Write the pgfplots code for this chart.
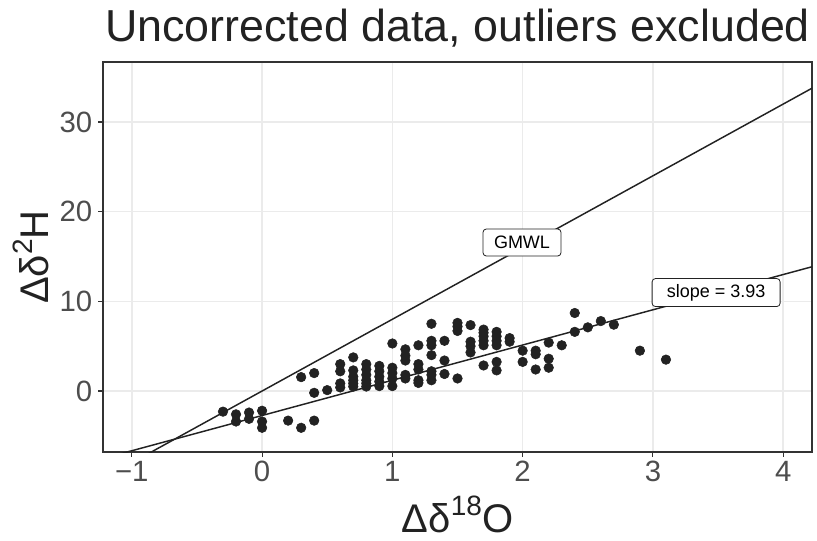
\documentclass[border=0pt]{standalone}
\usepackage{fontspec}
\setmainfont{Liberation Sans}
\usepackage{pgfplots}
\pgfplotsset{compat=1.18}
\definecolor{ptc}{HTML}{222222}
\definecolor{gridc}{HTML}{EBEBEB}
\definecolor{tickc}{HTML}{4D4D4D}
\definecolor{framec}{HTML}{333333}
\newcommand{\sups}[1]{\raisebox{0.42em}{\fontsize{21}{21}\selectfont #1}}
\begin{document}
\begin{tikzpicture}
\useasboundingbox (-77.25pt,-66pt) rectangle (535.5pt,339pt);
\begin{axis}[at={(0pt,0pt)}, anchor=south west, scale only axis,
  width=531.75pt, height=292.5pt,
  xmin=-1.221, xmax=4.221, ymin=-6.8, ymax=36.69,
  xtick={-1,0,1,2,3,4}, xticklabels={−1,0,1,2,3,4},
  ytick={0,10,20,30}, yticklabels={0,10,20,30},
  xtick pos=bottom, ytick pos=left,
  grid=major, grid style={color=gridc, line width=1.1pt},
  axis line style={color=framec, line width=1.1pt},
  tick style={color=framec, line width=0.8pt},
  tick align=outside, major tick length=3.5pt,
  ticklabel style={font=\fontsize{22}{22}\selectfont, color=tickc},
  yticklabel style={xshift=-1pt},
  clip=true]
\addplot[color=ptc, line width=1.1pt] coordinates {(-1.3,-10.4) (4.3,34.4)};
\addplot[color=ptc, line width=1.1pt] coordinates {(-1.3,-7.839) (4.3,14.169)};
\addplot[only marks, mark=*, mark size=3.6pt, color=ptc, mark options={draw=ptc, fill=ptc}] coordinates {
(-0.3,-2.3)
(-0.2,-2.6) (-0.2,-3.4)
(-0.1,-2.4) (-0.1,-3.1)
(0,-2.2) (0,-3.4) (0,-4.1)
(0.2,-3.3)
(0.3,-4.1) (0.3,1.55)
(0.4,2.0) (0.4,-0.2) (0.4,-3.3)
(0.5,0.1)
(0.6,3.0) (0.6,2.2) (0.6,0.85) (0.6,0.4)
(0.7,3.75) (0.7,2.3) (0.7,1.6) (0.7,1.2) (0.7,0.85) (0.7,0.5)
(0.8,3.0) (0.8,2.4) (0.8,1.8) (0.8,1.2) (0.8,0.85) (0.8,0.5)
(0.9,2.8) (0.9,2.2) (0.9,1.6) (0.9,1.05) (0.9,0.55)
(1.0,5.3) (1.0,2.6) (1.0,2.0) (1.0,1.4) (1.0,0.55)
(1.1,4.65) (1.1,3.95) (1.1,3.4) (1.1,1.8) (1.1,1.4)
(1.2,5.1) (1.2,3.0) (1.2,2.4) (1.2,1.2) (1.2,0.9)
(1.3,7.5) (1.3,5.6) (1.3,5.1) (1.3,4.0) (1.3,2.2) (1.3,1.8) (1.3,1.2)
(1.4,5.6) (1.4,3.4) (1.4,1.9)
(1.5,7.6) (1.5,7.2) (1.5,6.7) (1.5,1.4)
(1.6,7.35) (1.6,5.5) (1.6,5.0) (1.6,4.3)
(1.7,6.85) (1.7,6.5) (1.7,6.1) (1.7,5.6) (1.7,5.1) (1.7,2.85)
(1.8,6.6) (1.8,6.1) (1.8,5.6) (1.8,5.1) (1.8,3.25) (1.8,2.3)
(1.9,5.9) (1.9,5.5)
(2.0,4.5) (2.0,3.25)
(2.1,4.5) (2.1,4.1) (2.1,2.4)
(2.2,5.4) (2.2,3.6) (2.2,2.6)
(2.3,5.1)
(2.4,8.7) (2.4,6.6)
(2.5,7.1)
(2.6,7.8)
(2.7,7.4)
(2.9,4.5)
(3.1,3.5)
};
\node[draw=ptc, line width=0.6pt, rounded corners=2.5pt, fill=white, font=\fontsize{13.5}{13.5}\selectfont, minimum width=58.5pt, minimum height=20.25pt, inner sep=1pt] at (axis cs:1.995,16.56) {GMWL};
\node[draw=ptc, line width=0.6pt, rounded corners=2.5pt, fill=white, font=\fontsize{13.5}{13.5}\selectfont, minimum width=96pt, minimum height=21pt, inner sep=1pt] at (axis cs:3.485,10.98) {slope = 3.93};
\end{axis}
\node[anchor=base west, font=\fontsize{33.6}{33.6}\selectfont, color=ptc, inner sep=0pt] at (1.5pt,15pt+292.5pt) {Uncorrected data, outliers excluded};
\node[rotate=90, font=\fontsize{30}{30}\selectfont, color=ptc, inner sep=0pt] at (-54pt,146.25pt) {Δδ\sups{2}H};
\node[font=\fontsize{30}{30}\selectfont, color=ptc, anchor=base, inner sep=0pt] at (265.9pt,-60pt) {Δδ\sups{18}O};
\end{tikzpicture}
\end{document}
